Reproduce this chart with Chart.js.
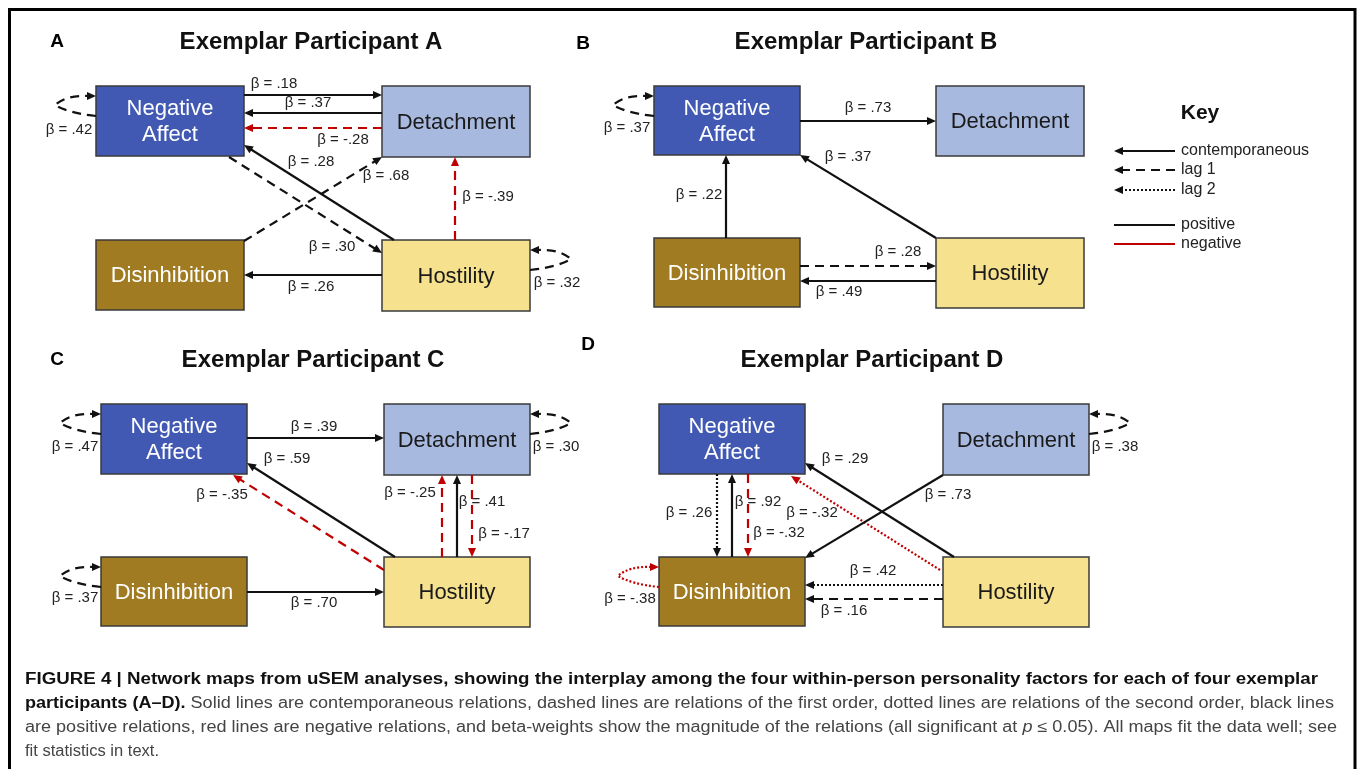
<!DOCTYPE html>
<html>
<head>
<meta charset="utf-8">
<title>Network maps from uSEM analyses</title>
<script src="https://cdn.jsdelivr.net/npm/chart.js@4/dist/chart.umd.min.js"></script>
<style>
  html, body { margin: 0; padding: 0; background: #fff; }
  canvas { display: block; }
</style>
</head>
<body>
<canvas id="mapChart" width="1358" height="769"></canvas>
<script>
// ---- data ----
const factorKeys = ['NA', 'DT', 'DI', 'HO'];
const factorNames = { NA: ['Negative', 'Affect'], DT: ['Detachment'], DI: ['Disinhibition'], HO: ['Hostility'] };
const panelLetters = ['A', 'B', 'C', 'D'];
const panelTitles = ['Exemplar Participant A', 'Exemplar Participant B', 'Exemplar Participant C', 'Exemplar Participant D'];
const lagNames = ['contemporaneous', 'lag 1', 'lag 2'];
const signNames = ['positive', 'negative'];

// relations: [from, to, beta, lag]  (lag 0 = contemporaneous, 1 = lag 1, 2 = lag 2)
const edgesA = [
    ['NA', 'DT', 0.18, 0], ['DT', 'NA', 0.37, 0], ['DT', 'NA', -0.28, 1], ['HO', 'NA', 0.28, 0],
    ['DI', 'DT', 0.68, 1], ['NA', 'HO', 0.30, 1], ['HO', 'DT', -0.39, 1], ['HO', 'DI', 0.26, 0],
    ['NA', 'NA', 0.42, 1], ['HO', 'HO', 0.32, 1]
];
const edgesB = [
    ['NA', 'DT', 0.73, 0], ['HO', 'NA', 0.37, 0], ['DI', 'NA', 0.22, 0], ['DI', 'HO', 0.28, 1],
    ['HO', 'DI', 0.49, 0], ['NA', 'NA', 0.37, 1]
];
const edgesC = [
    ['NA', 'DT', 0.39, 0], ['HO', 'NA', 0.59, 0], ['HO', 'NA', -0.35, 1], ['HO', 'DT', -0.25, 1],
    ['HO', 'DT', 0.41, 0], ['DT', 'HO', -0.17, 1], ['DI', 'HO', 0.70, 0],
    ['NA', 'NA', 0.47, 1], ['DT', 'DT', 0.30, 1], ['DI', 'DI', 0.37, 1]
];
const edgesD = [
    ['NA', 'DI', 0.26, 2], ['DI', 'NA', 0.92, 0], ['NA', 'DI', -0.32, 1], ['HO', 'NA', -0.32, 2],
    ['HO', 'NA', 0.29, 0], ['DT', 'DI', 0.73, 0], ['HO', 'DI', 0.42, 2], ['HO', 'DI', 0.16, 1],
    ['DI', 'DI', -0.38, 2], ['DT', 'DT', 0.38, 1]
];
const panelEdges = [edgesA, edgesB, edgesC, edgesD];

const captionLines = [
    [['FIGURE 4 | Network maps from uSEM analyses, showing the interplay among the four within-person personality factors for each of four exemplar', 'b']],
    [['participants (A\u2013D).', 'b'], [' Solid lines are contemporaneous relations, dashed lines are relations of the first order, dotted lines are relations of the second order, black lines', 'r']],
    [['are positive relations, red lines are negative relations, and beta-weights show the magnitude of the relations (all significant at ', 'r'], ['p', 'i'], [' \u2264 0.05). All maps fit the data well; see', 'r']],
    [['fit statistics in text.', 'r']]
];

// ---- layout (positions / styles) ----
const boxLayout = [
    { NA: [96, 86, 244, 156], DT: [382, 86, 530, 157], DI: [96, 240, 244, 310], HO: [382, 240, 530, 311] },
    { NA: [654, 86, 800, 155], DT: [936, 86, 1084, 156], DI: [654, 238, 800, 307], HO: [936, 238, 1084, 308] },
    { NA: [101, 404, 247, 474], DT: [384, 404, 530, 475], DI: [101, 557, 247, 626], HO: [384, 557, 530, 627] },
    { NA: [659, 404, 805, 474], DT: [943, 404, 1089, 475], DI: [659, 557, 805, 626], HO: [943, 557, 1089, 627] }
];
// straight: [x1, y1, x2, y2, labelX, labelY]; loop: [side, labelX, labelY]
const routeLayout = [
    [[244, 95, 382, 95, 274, 84], [382, 113, 244, 113, 308, 103], [382, 128, 244, 128, 343, 140],
     [394, 240, 244, 145, 311, 162], [244, 241, 382, 157, 386, 176], [229, 157, 382, 253, 332, 247],
     [455, 240, 455, 157, 488, 197], [382, 275, 244, 275, 311, 287], ['L', 69, 130], ['R', 557, 283]],
    [[800, 121, 936, 121, 868, 108], [936, 238, 800, 155, 848, 157], [726, 238, 726, 155, 699, 195],
     [800, 266, 936, 266, 898, 252], [936, 281, 800, 281, 839, 292], ['L', 627, 128]],
    [[247, 438, 384, 438, 314, 427], [395, 557, 247, 463, 287, 459], [384, 570, 233, 475, 222, 495],
     [442, 557, 442, 475, 410, 493], [457, 557, 457, 475, 482, 502], [472, 475, 472, 557, 504, 534],
     [247, 592, 384, 592, 314, 603], ['L', 75, 447], ['R', 556, 447], ['L', 75, 598]],
    [[717, 474, 717, 557, 689, 513], [732, 557, 732, 474, 758, 502], [748, 474, 748, 557, 779, 533],
     [940, 570, 791, 476, 812, 513], [954, 557, 805, 463, 845, 459], [943, 475, 805, 558, 948, 495],
     [943, 585, 805, 585, 873, 571], [943, 599, 805, 599, 844, 611], ['L', 630, 599], ['R', 1115, 447]]
];
const letterPos = [[57, 42], [583, 44], [57, 360], [588, 345]];
const titlePos = [[311, 42], [866, 42], [313, 360], [872, 360]];
const keyLayout = { title: [1200, 113], x1: 1114, x2: 1175, textX: 1181, rows: [151, 170, 190, 225, 244] };
const captionLayout = { x: 25, rows: [680, 704, 728, 752], right: [1318, 1334, 1337, 159] };

const boxColors = { NA: '#4159b3', DT: '#a8b9e0', DI: '#a07b22', HO: '#f6e28e' };
const boxText = { NA: '#ffffff', DT: '#1a1a1a', DI: '#ffffff', HO: '#1a1a1a' };
const RED = '#c00000', BLACK = '#111111';
const dashes = [[], [9, 6], [2, 2]];
const FONT = '"Liberation Sans", Arial, Helvetica, sans-serif';

function betaText(b) {
    return '\u03b2 = ' + (b < 0 ? '-' : '') + '.' + String(Math.round(Math.abs(b) * 100)).padStart(2, '0');
}

const diagramPlugin = {
    id: 'diagram',
    afterDraw(chart) {
        const c = chart.ctx;
        const xs = chart.scales.x, ys = chart.scales.y;
        const px = v => xs.getPixelForValue(v);
        const py = v => ys.getPixelForValue(v);

        function head(x, y, ux, uy, color) {
            const L = 9, W = 4;
            c.setLineDash([]);
            c.fillStyle = color;
            c.beginPath();
            c.moveTo(x, y);
            c.lineTo(x - ux * L - uy * W, y - uy * L + ux * W);
            c.lineTo(x - ux * L + uy * W, y - uy * L - ux * W);
            c.closePath();
            c.fill();
        }
        function arrow(x1, y1, x2, y2, color, dash, withHead) {
            const dx = x2 - x1, dy = y2 - y1, len = Math.hypot(dx, dy);
            const ux = dx / len, uy = dy / len;
            const back = withHead ? 7 : 0;
            c.strokeStyle = color;
            c.lineWidth = 2.2;
            c.setLineDash(dash);
            c.beginPath();
            c.moveTo(x1, y1);
            c.lineTo(x2 - ux * back, y2 - uy * back);
            c.stroke();
            if (withHead) head(x2, y2, ux, uy, color);
        }
        function loop(box, side, color, dash) {
            const s = side === 'L' ? -1 : 1;
            const e = px(side === 'L' ? box[0] : box[2]);
            const hi = py(box[1] + 10), lo = py(box[1] + 30);
            c.strokeStyle = color;
            c.lineWidth = 2.2;
            c.setLineDash(dash);
            c.beginPath();
            c.moveTo(e, lo);
            c.quadraticCurveTo(e + s * 28, lo - 3, e + s * 41, hi + 9);
            c.quadraticCurveTo(e + s * 30, hi - 1, e + s * 8, hi);
            c.stroke();
            head(e, hi, -s, 0, color);
        }
        function label(text, x, y, font, color, align) {
            c.font = font;
            c.fillStyle = color;
            c.textAlign = align || 'center';
            c.textBaseline = 'middle';
            c.fillText(text, x, y);
        }

        c.save();
        // frame
        c.strokeStyle = '#000';
        c.lineWidth = 3;
        c.setLineDash([]);
        c.strokeRect(px(9.5), py(9.5), px(1355) - px(9.5), 900);

        panelEdges.forEach((edges, p) => {
            label(panelLetters[p], px(letterPos[p][0]), py(letterPos[p][1]), 'bold 19px ' + FONT, '#000');
            label(panelTitles[p], px(titlePos[p][0]), py(titlePos[p][1]), 'bold 24px ' + FONT, '#111');

            const boxes = boxLayout[p];
            factorKeys.forEach(k => {
                const b = boxes[k];
                const x0 = px(b[0]), y0 = py(b[1]), w = px(b[2]) - x0, h = py(b[3]) - y0;
                c.fillStyle = boxColors[k];
                c.fillRect(x0, y0, w, h);
                c.strokeStyle = '#3a3a3a';
                c.lineWidth = 1.5;
                c.setLineDash([]);
                c.strokeRect(x0, y0, w, h);
                const lines = factorNames[k];
                const cx = x0 + w / 2, cy = y0 + h / 2;
                lines.forEach((t, i) => {
                    label(t, cx, cy + (i - (lines.length - 1) / 2) * 26 + 1, '22px ' + FONT, boxText[k]);
                });
            });

            edges.forEach((e, i) => {
                const r = routeLayout[p][i];
                const color = e[2] < 0 ? RED : BLACK;
                const dash = dashes[e[3]];
                if (e[0] === e[1]) {
                    loop(boxes[e[0]], r[0], color, dash);
                    label(betaText(e[2]), px(r[1]), py(r[2]), '15px ' + FONT, '#222');
                } else {
                    arrow(px(r[0]), py(r[1]), px(r[2]), py(r[3]), color, dash, true);
                    label(betaText(e[2]), px(r[4]), py(r[5]), '15px ' + FONT, '#222');
                }
            });
        });

        // key
        label('Key', px(keyLayout.title[0]), py(keyLayout.title[1]), 'bold 21px ' + FONT, '#111');
        const keyItems = lagNames.map((n, i) => [n, BLACK, dashes[i], true])
            .concat(signNames.map((n, i) => [n, i ? RED : BLACK, [], false]));
        keyItems.forEach((it, i) => {
            const y = py(keyLayout.rows[i]);
            arrow(px(keyLayout.x2), y, px(keyLayout.x1), y, it[1], it[2], it[3]);
            label(it[0], px(keyLayout.textX), y, '16px ' + FONT, '#222', 'left');
        });

        // caption
        const fonts = { b: 'bold 16px ' + FONT, r: '16px ' + FONT, i: 'italic 16px ' + FONT };
        const colors = { b: '#111', r: '#444', i: '#444' };
        captionLines.forEach((segs, li) => {
            let total = 0;
            segs.forEach(s => { c.font = fonts[s[1]]; total += c.measureText(s[0]).width; });
            const x0 = px(captionLayout.x);
            const sx = (px(captionLayout.right[li]) - x0) / total;
            c.save();
            c.translate(x0, py(captionLayout.rows[li]));
            c.scale(sx, 1);
            let x = 0;
            segs.forEach(s => {
                c.font = fonts[s[1]];
                c.fillStyle = colors[s[1]];
                c.textAlign = 'left';
                c.textBaseline = 'middle';
                c.fillText(s[0], x, 0);
                x += c.measureText(s[0]).width;
            });
            c.restore();
        });
        c.restore();
    }
};

// node centres as chart points (invisible), boxes are drawn around them by the plugin
const nodePoints = [];
boxLayout.forEach(bx => factorKeys.forEach(k => {
    nodePoints.push({ x: (bx[k][0] + bx[k][2]) / 2, y: (bx[k][1] + bx[k][3]) / 2 });
}));

const ctx = document.getElementById('mapChart').getContext('2d');
new Chart(ctx, {
    type: 'scatter',
    data: { datasets: [{ data: nodePoints, pointRadius: 0 }] },
    options: {
        responsive: false,
        animation: false,
        events: [],
        layout: { padding: 0 },
        scales: {
            x: { type: 'linear', min: 0, max: 1358, display: false },
            y: { type: 'linear', min: 0, max: 769, reverse: true, display: false }
        },
        plugins: { legend: { display: false }, tooltip: { enabled: false } }
    },
    plugins: [diagramPlugin]
});
</script>
</body>
</html>
